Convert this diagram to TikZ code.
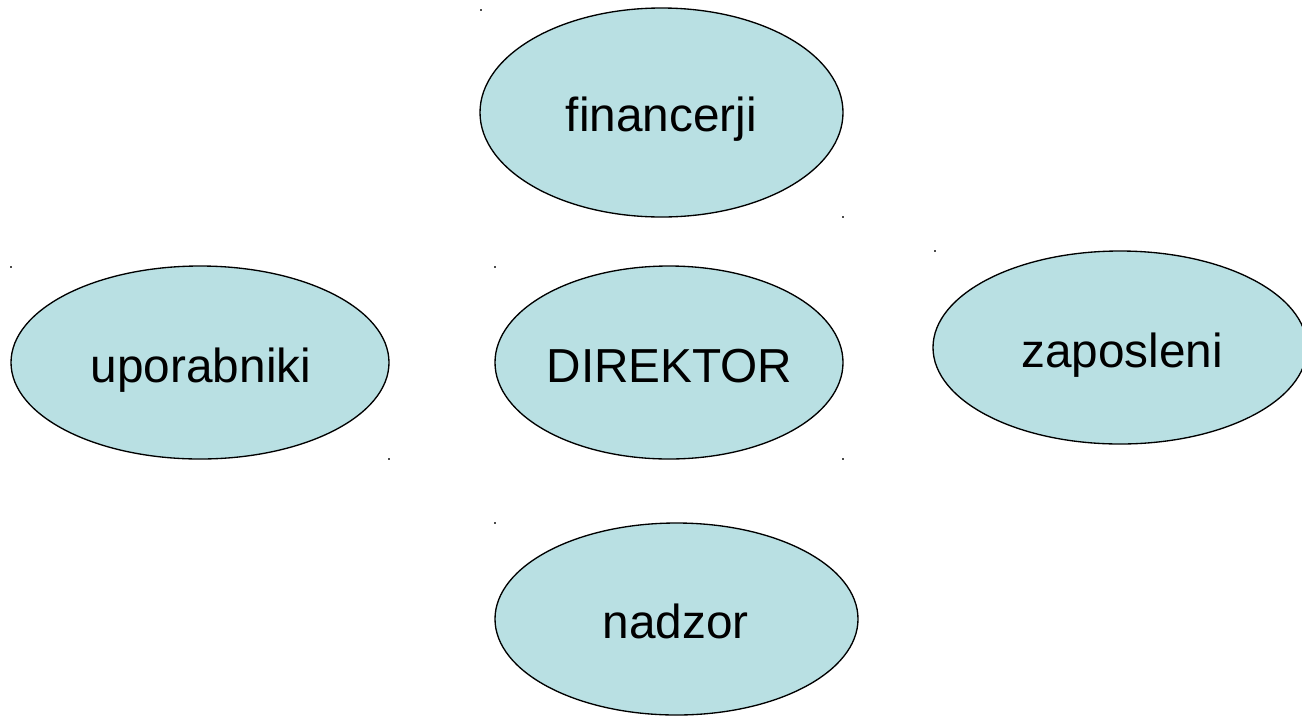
\documentclass[tikz,border=0pt]{standalone}
\usepackage{fontspec}
\setmainfont{Liberation Sans}
\usetikzlibrary{shapes.geometric}
\definecolor{palecyan}{RGB}{185,224,227}
\begin{document}
\begin{tikzpicture}[x=0.75pt,y=-0.75pt,
  bubble/.style={ellipse,draw=black,line width=1pt,fill=palecyan,inner sep=0pt},
  lbl/.style={anchor=base,inner sep=0pt,font=\fontsize{35.8}{40}\selectfont},
  tick/.style={fill=black!70,inner sep=0pt,minimum size=1pt,rectangle}]
\useasboundingbox (0,0) rectangle (1302,715);
\begin{scope}
\clip (0,0) rectangle (1302,715);
\node[bubble,minimum width=272.25pt,minimum height=156.75pt] (fin) at (661.5,112.5) {};
\node[bubble,minimum width=283.5pt,minimum height=144.75pt] (upo) at (200,362.5) {};
\node[bubble,minimum width=261pt,minimum height=144.75pt] (dir) at (669,362.5) {};
\node[bubble,minimum width=280.5pt,minimum height=144.75pt] (zap) at (1120,347.5) {};
\node[bubble,minimum width=272.25pt,minimum height=144pt] (nad) at (676.5,619) {};
\end{scope}
\node[lbl] (tfin) at (661.5,131) {financerji};
\node[lbl] (tupo) at (201,382) {uporabniki};
\node[lbl] (tdir) at (669.5,382) {DIREKTOR};
\node[lbl] (tzap) at (1122,367) {zaposleni};
\node[lbl] (tnad) at (675.5,638) {nadzor};
\node[tick] (d1) at (481,10) {};
\node[tick] (d2) at (843,217) {};
\node[tick] (d3) at (11,267) {};
\node[tick] (d4) at (495,267) {};
\node[tick] (d5) at (935,251) {};
\node[tick] (d6) at (389,459) {};
\node[tick] (d7) at (843,459) {};
\node[tick] (d8) at (495,523) {};
\end{tikzpicture}
\end{document}
